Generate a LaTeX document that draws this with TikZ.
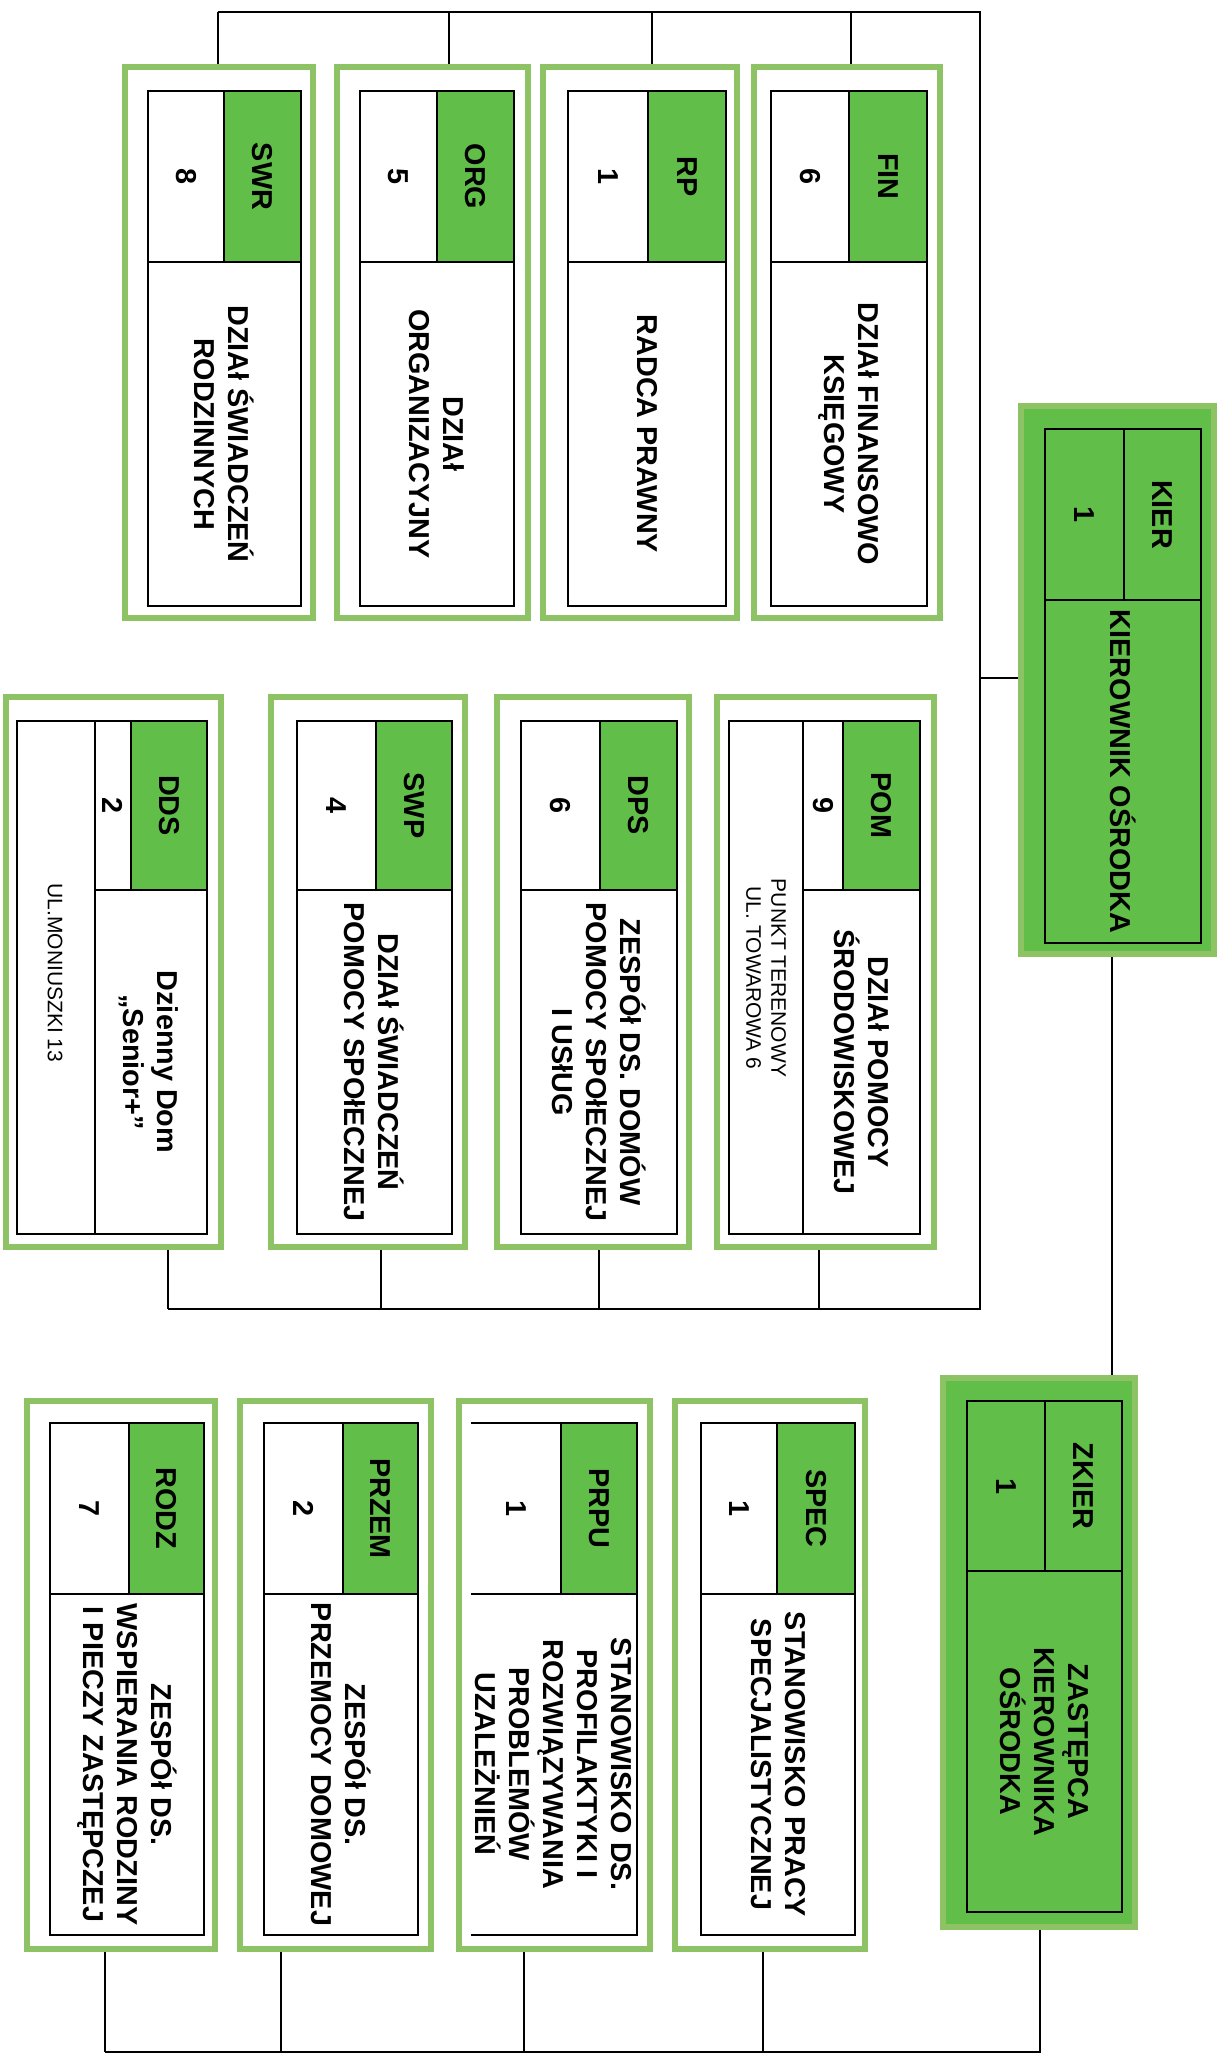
\documentclass[tikz,border=0pt]{standalone}
\usepackage{fontspec}
\setmainfont{Liberation Sans}
\usetikzlibrary{fit}
\definecolor{cellg}{RGB}{97,190,72}
\definecolor{frameg}{RGB}{141,194,101}
\pgfdeclarelayer{background}
\pgfsetlayers{background,main}
\tikzset{
  frame/.style={draw=frameg, line width=3pt, fill=white, inner sep=0pt},
  bossframe/.style={draw=frameg, line width=3pt, fill=cellg, inner sep=0pt},
  inl/.style={draw=black, line width=0.9pt},
  conn/.style={draw=black, line width=1.3pt},
  codetxt/.style={rotate=-90, font=\bfseries\fontsize{14.4}{17}\selectfont, inner sep=0pt},
  numtxt/.style={rotate=-90, font=\bfseries\fontsize{14.4}{17}\selectfont, inner sep=0pt},
  titletxt/.style={rotate=-90, align=center, font=\bfseries\fontsize{14.4}{17}\selectfont, inner sep=0pt},
  addrtxt/.style={rotate=-90, align=center, font=\fontsize{10.5}{12.5}\selectfont, inner sep=0pt},
}
% #1 name, #2 outer left, #3 outer right, #4 inner left, #5 inner right,
% #6 left of code cell, #7 code, #8 number, #9 title
\newcommand\orgunit[9]{%
  \node[frame, fit={({#2+3},{\rowOT+3}) ({#3-3},{\rowOB-3})}] (#1) {};
  \fill[cellg] (#6,\rowIT) rectangle (#5,\rowDV);
  \draw[inl] (#4,\rowIT) rectangle (#5,\rowIB);
  \draw[inl] (#4,\rowDV) -- (#5,\rowDV) (#6,\rowIT) -- (#6,\rowDV);
  \node[codetxt] (#1-code) at ({(#6+#5)/2},{(\rowIT+\rowDV)/2}) {#7};
  \node[numtxt] (#1-num) at ({(#4+#6)/2},{(\rowIT+\rowDV)/2}) {#8};
  \node[titletxt] (#1-title) at ({(#4+#5)/2},{(\rowDV+\rowIB)/2}) {#9};
}
\begin{document}
\begin{tikzpicture}[x=0.5pt, y=-0.5pt]
\useasboundingbox (0,0) rectangle (1226,2060);

% ---------- top row ----------
\def\rowOT{64}\def\rowIT{91}\def\rowDV{262}\def\rowIB{606}\def\rowOB{621}
\orgunit{swr}{122}{316}{148}{301}{224}{SWR}{8}{DZIAł ŚWIADCZEŃ\\RODZINNYCH}
\orgunit{org}{334}{531}{360}{514}{437}{ORG}{5}{DZIAł\\ORGANIZACYJNY}
\orgunit{rp}{540}{740}{568}{726}{648}{RP}{1}{RADCA PRAWNY}
\orgunit{fin}{751}{943}{771}{927}{849}{FIN}{6}{DZIAł FINANSOWO\\KSIĘGOWY}

% ---------- middle row ----------
\def\rowOT{694}\def\rowIT{721}\def\rowDV{890}\def\rowIB{1234}\def\rowOB{1250}
% DDS
\node[frame, fit={(6,697) (221,1247)}] (dds) {};
\fill[cellg] (131,721) rectangle (207,890);
\draw[inl] (17,721) rectangle (207,1234);
\draw[inl] (95,721) -- (95,1234) (95,890) -- (207,890) (131,721) -- (131,890);
\node[codetxt] (dds-code) at (169,805.5) {DDS};
\node[numtxt] (dds-num) at (113,805.5) {2};
\node[titletxt] (dds-title) at (149,1062) {Dzienny Dom\\„Senior+”};
\node[addrtxt] (dds-addr) at (55,973) {UL.MONIUSZKI 13};
\orgunit{swp}{268}{468}{297}{452}{376}{SWP}{4}{DZIAł ŚWIADCZEŃ\\POMOCY SPOłECZNEJ}
\orgunit{dps}{494}{692}{521}{677}{600}{DPS}{6}{ZESPÓł DS. DOMÓW\\POMOCY SPOłECZNEJ\\I USłUG}
% POM
\node[frame, fit={(717,697) (934,1247)}] (pom) {};
\fill[cellg] (843,721) rectangle (920,890);
\draw[inl] (729,721) rectangle (920,1234);
\draw[inl] (803,721) -- (803,1234) (803,890) -- (920,890) (843,721) -- (843,890);
\node[codetxt] (pom-code) at (881.5,805.5) {POM};
\node[numtxt] (pom-num) at (823,805.5) {9};
\node[titletxt] (pom-title) at (861.5,1062) {DZIAł POMOCY\\ŚRODOWISKOWEJ};
\node[addrtxt] (pom-addr) at (766,978) {PUNKT TERENOWY\\UL. TOWAROWA 6};

% ---------- bottom row ----------
\def\rowOT{1398}\def\rowIT{1423}\def\rowDV{1594}\def\rowIB{1935}\def\rowOB{1952}
\orgunit{rodz}{24}{218}{50}{204}{129}{RODZ}{7}{ZESPÓł DS.\\WSPIERANIA RODZINY\\I PIECZY ZASTĘPCZEJ}
\orgunit{przem}{237}{434}{264}{418}{343}{PRZEM}{2}{ZESPÓł DS.\\PRZEMOCY DOMOWEJ}
% PRPU (inner box without left edge)
\node[frame, fit={(459,1401) (650,1949)}] (prpu) {};
\fill[cellg] (561,1423) rectangle (637,1594);
\draw[inl] (471,1423) -- (637,1423) -- (637,1935) -- (471,1935);
\draw[inl] (471,1594) -- (637,1594) (561,1423) -- (561,1594);
\node[codetxt] (prpu-code) at (599,1508.5) {PRPU};
\node[numtxt] (prpu-num) at (516,1508.5) {1};
\node[titletxt] (prpu-title) at (553,1764) {STANOWISKO DS.\\PROFILAKTYKI I\\ROZWIĄZYWANIA\\PROBLEMÓW\\UZALEŻNIEŃ};
\orgunit{spec}{672}{868}{701}{855}{777}{SPEC}{1}{STANOWISKO PRACY\\SPECJALISTYCZNEJ}

% ---------- KIER ----------
\node[bossframe, fit={(1021,406) (1214,954)}] (kier) {};
\draw[inl] (1045,429) rectangle (1201,943);
\draw[inl] (1045,600) -- (1201,600) (1124,429) -- (1124,600);
\node[codetxt] (kier-code) at (1162.5,514.5) {KIER};
\node[numtxt] (kier-num) at (1084.5,514.5) {1};
\node[titletxt] (kier-title) at (1123,771.5) {KIEROWNIK OŚRODKA};

% ---------- ZKIER ----------
\node[bossframe, fit={(943,1378) (1135,1927)}] (zkier) {};
\draw[inl] (967,1401) rectangle (1122,1912);
\draw[inl] (967,1571) -- (1122,1571) (1045,1401) -- (1045,1571);
\node[codetxt] (zkier-code) at (1083.5,1486) {ZKIER};
\node[numtxt] (zkier-num) at (1006,1486) {1};
\node[titletxt] (zkier-title) at (1044.5,1741.5) {ZASTĘPCA\\KIEROWNIKA\\OŚRODKA};

% ---------- connectors ----------
\coordinate (tb) at (980,12);
\coordinate (mb) at (980,1309);
\coordinate (kb) at (980,678);
\coordinate (swrb) at (218,12);
\coordinate (orgb) at (449,12);
\coordinate (rpb) at (652,12);
\coordinate (finb) at (851,12);
\coordinate (ddsb) at (168,1309);
\coordinate (swpb) at (381,1309);
\coordinate (dpsb) at (599,1309);
\coordinate (pomb) at (819,1309);
\coordinate (kzx) at (1112,1000);
\coordinate (zb) at (1040,2052);
\coordinate (rodzb) at (105,2052);
\coordinate (przemb) at (281,2052);
\coordinate (prpub) at (524,2052);
\coordinate (specb) at (763,2052);

\begin{pgfonlayer}{background}
\fill[white] (0,0) rectangle (1226,2060);
\draw[conn] (swrb) -- (tb) -- (mb) -- (ddsb);
\draw[conn] (swrb) -- (swrb |- swr.north);
\draw[conn] (orgb) -- (orgb |- org.north);
\draw[conn] (rpb) -- (rpb |- rp.north);
\draw[conn] (finb) -- (finb |- fin.north);
\draw[conn] (ddsb) -- (ddsb |- dds.south);
\draw[conn] (swpb) -- (swpb |- swp.south);
\draw[conn] (dpsb) -- (dpsb |- dps.south);
\draw[conn] (pomb) -- (pomb |- pom.south);
\draw[conn] (kb) -- (kb -| kier.west);
\draw[conn] (kzx |- kier.south) -- (kzx |- zkier.north);
\draw[conn] (zb |- zkier.south) -- (zb) -- (rodzb);
\draw[conn] (rodzb) -- (rodzb |- rodz.south);
\draw[conn] (przemb) -- (przemb |- przem.south);
\draw[conn] (prpub) -- (prpub |- prpu.south);
\draw[conn] (specb) -- (specb |- spec.south);
\end{pgfonlayer}
\end{tikzpicture}
\end{document}
